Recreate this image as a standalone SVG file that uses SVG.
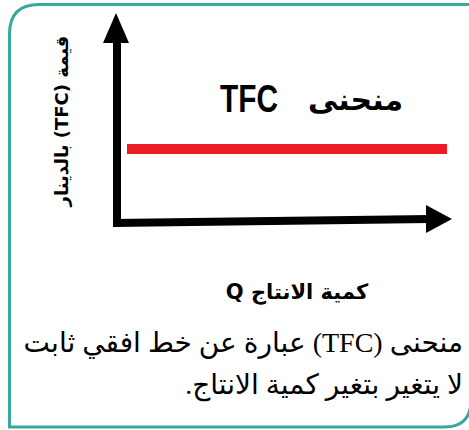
<svg xmlns="http://www.w3.org/2000/svg" width="469" height="430" viewBox="0 0 469 430">
<style>
.frame{fill:none;stroke:#3aa79c;stroke-width:3}
.axis{stroke:#000;stroke-width:8;fill:none}
.head{fill:#000}
.ar{font-family:"DejaVu Sans",sans-serif;font-weight:bold;fill:#000}
.para{font-family:"Liberation Serif","DejaVu Sans",serif;font-size:28px;fill:#000}
</style>
<rect width="469" height="430" fill="#fff"/>
<path class="frame" d="M9.5 427 L9.5 34 Q9.5 4.5 39 4.5 L471 4.5 L471 400 Q471 427 444 427 Z"/>
<g id="connectors">
<line class="axis" x1="117" y1="40" x2="117" y2="227"/>
<polygon class="head" points="116,13 129,43 103,43"/>
<line class="axis" x1="113" y1="223" x2="430" y2="219"/>
<polygon class="head" points="452,219 426,205 426,233"/>
</g>
<g id="tfc-line">
<rect x="127" y="144" width="320" height="10" fill="#ed1c24"/>
</g>
<g id="title">
<text class="ar" x="403" y="110" font-size="30" direction="rtl">منحنى</text>
<text x="220" y="112" font-family="Liberation Sans,sans-serif" font-weight="bold" font-size="39" textLength="58" lengthAdjust="spacingAndGlyphs">TFC</text>
</g>
<g id="y-label">
<text class="ar" font-size="18" text-anchor="middle" direction="rtl" transform="translate(68 121) rotate(-90)">قيمة (TFC) بالدينار</text>
</g>
<g id="x-label">
<text class="ar" font-size="21" text-anchor="middle" direction="rtl" x="297" y="299">كمية الانتاج Q</text>
</g>
<g id="note">
<text class="para" x="463" y="352" direction="rtl">منحنى (TFC) عبارة عن خط افقي ثابت</text>
<text class="para" x="463" y="394" direction="rtl">لا يتغير بتغير كمية الانتاج.</text>
</g>
</svg>
